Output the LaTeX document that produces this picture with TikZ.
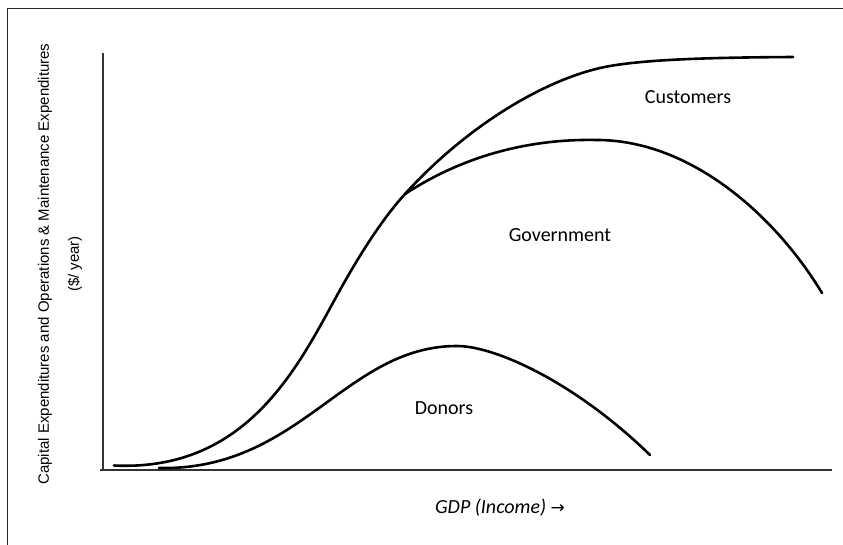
\documentclass[tikz,border=0pt]{standalone}
\usepackage{fontspec}
\setmainfont{Carlito}
\newfontfamily\axisfont{Liberation Sans}
\newfontfamily\symfont{DejaVu Sans}
\begin{document}
\begin{tikzpicture}[x=1pt,y=-1pt,
  frameline/.style={line width=1pt,draw=black!85},
  axisline/.style={line width=1.3pt,draw=black!80},
  curve/.style={line width=2.6pt,line cap=round,line join=round},
  region/.style={font=\fontsize{20}{24}\selectfont,inner sep=0pt},
  ylab/.style={font=\axisfont\fontsize{15}{30}\selectfont,rotate=90,align=center,inner sep=0pt}]
\useasboundingbox (0,0) rectangle (843,545);
% frame (partly outside the page)
\draw[frameline] (7,560) -- (7,9) -- (860,9);
% axes
\coordinate (ytop) at (103,53);
\coordinate (orig) at (103,470);
\coordinate (xstart) at (100,470);
\coordinate (xend) at (832,470);
\draw[axisline] (ytop) -- (orig);
\draw[axisline] (xstart) -- (xend);
% curve points
\coordinate (c0) at (114,465.5);
\coordinate (c2) at (340,290);
\coordinate (junction) at (405,194);
\coordinate (c4) at (600,68);
\coordinate (c5) at (793,57);
\coordinate (g1) at (597,140);
\coordinate (g2) at (822,293);
\coordinate (d0) at (159,468);
\coordinate (d2) at (457,346);
\coordinate (d3) at (650,455);
% customers
\draw[curve] (c0) .. controls (250,472) and (300,362) .. (c2)
  .. controls (360,254) and (383,218) .. (junction)
  .. controls (465,128) and (540,82) .. (c4)
  .. controls (640,58.8) and (720,57.5) .. (c5);
% government
\draw[curve] (junction) .. controls (460,158) and (525,138.5) .. (g1)
  .. controls (690,140) and (775,215) .. (g2);
% donors
\draw[curve] (d0) .. controls (300,471) and (345,346) .. (d2)
  .. controls (495,346) and (575,382) .. (d3);
% labels
\node[region] (cust) at (688,97) {Customers};
\node[region] (gov) at (560,235) {Government};
\node[region] (don) at (444,408) {Donors};
\node[region,font=\itshape\fontsize{20}{24}\selectfont] (gdp) at (500,508) {GDP (Income) {\symfont\fontsize{17}{20}\selectfont →}};
\node[ylab] (ylabel) at (60,264) {Capital Expenditures and Operations \& Maintenance Expenditures\\(\$/ year)};
\end{tikzpicture}
\end{document}
